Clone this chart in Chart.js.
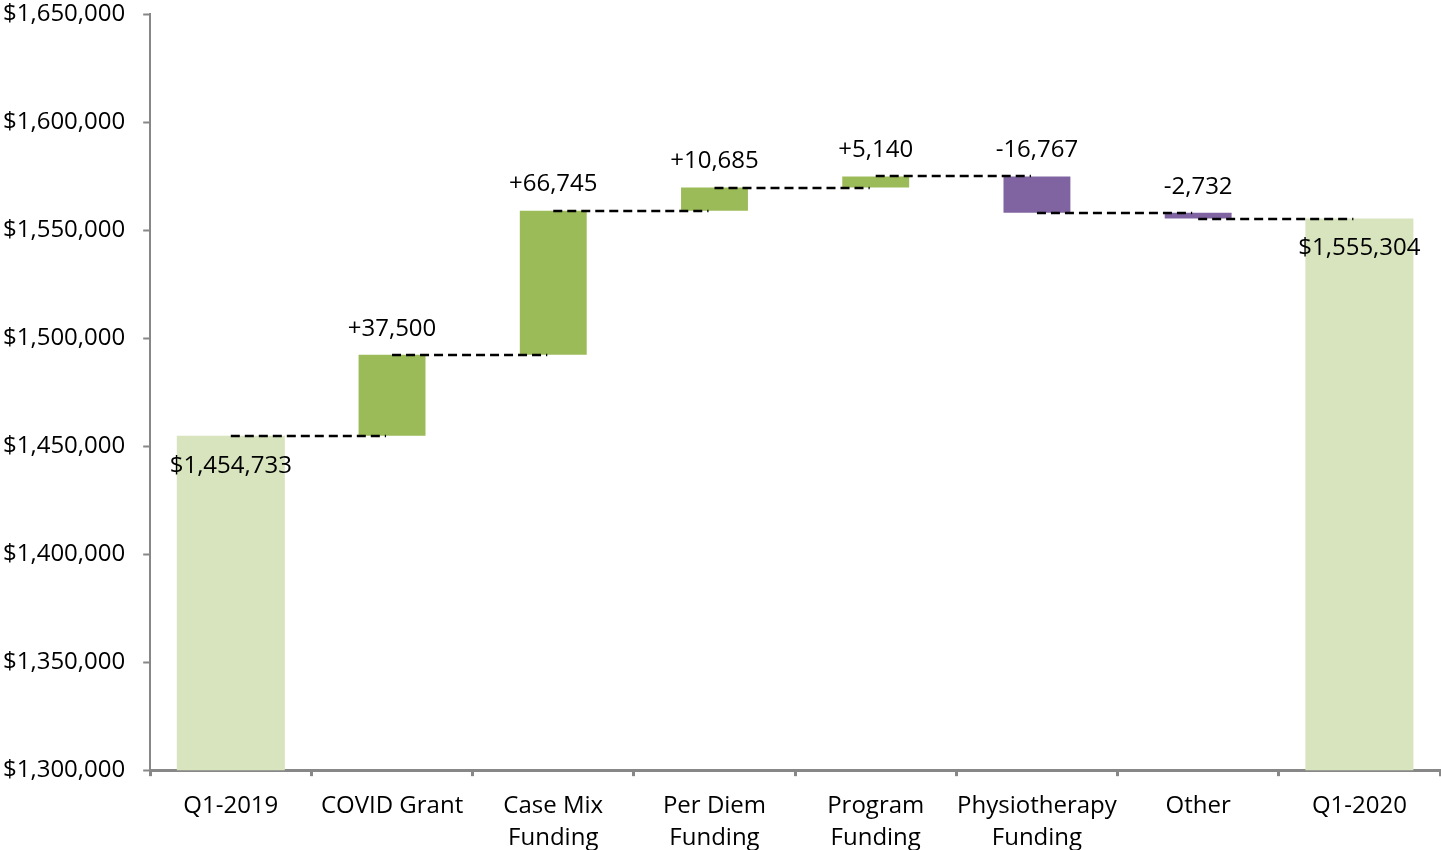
<!DOCTYPE html>
<html>
<head>
<meta charset="utf-8">
<script src="https://cdn.jsdelivr.net/npm/chart.js@4/dist/chart.umd.min.js"></script>
<style>
  html, body { margin: 0; padding: 0; background: #fff; }
  #wrap { width: 1441px; height: 850px; position: relative; }
</style>
</head>
<body>
<div id="wrap"><canvas id="waterfall"></canvas></div>
<script>
// ===== DATA =====
const categories = ['Q1-2019', 'COVID Grant', ['Case Mix', 'Funding'], ['Per Diem', 'Funding'],
                    ['Program', 'Funding'], ['Physiotherapy', 'Funding'], 'Other', 'Q1-2020'];
const startTotal = 1454733;
const changes = [37500, 66745, 10685, 5140, -16767, -2732];
const endTotal = 1555304;
const yTicks = { min: 1300000, max: 1650000, step: 50000 };

const colors = {
  total: '#D7E4BD',
  up: '#9BBB59',
  down: '#8064A2',
  axis: '#878787'
};
const FONT = { family: '"Open Sans", sans-serif', size: 24 };

// Build floating bars for the changes, running total along the way
const totalsData = [startTotal, null, null, null, null, null, null, endTotal];
const deltaData = [null];
const deltaColors = [null];
let running = startTotal;
changes.forEach(function(c) {
  deltaData.push([running, running + c]);
  deltaColors.push(c >= 0 ? colors.up : colors.down);
  running += c;
});
deltaData.push(null);
deltaColors.push(null);

// level each connector sits at (end of bar i)
const levels = [startTotal];
running = startTotal;
changes.forEach(function(c) { running += c; levels.push(running); });

// connectors + value labels
const waterfallExtras = {
  id: 'waterfallExtras',
  afterDatasetsDraw(chart) {
    const ctx = chart.ctx;
    const x = chart.scales.x, y = chart.scales.y;

    // dashed lines from the center of one bar to the next
    ctx.save();
    ctx.strokeStyle = '#000';
    ctx.lineWidth = 2.5;
    ctx.setLineDash([9, 5]);
    for (let i = 0; i < levels.length; i++) {
      const py = Math.round(y.getPixelForValue(levels[i]));
      ctx.beginPath();
      ctx.moveTo(x.getPixelForValue(i), py);
      ctx.lineTo(x.getPixelForValue(i + 1) - 6, py);
      ctx.stroke();
    }
    ctx.restore();

    ctx.save();
    ctx.font = FONT.size + 'px ' + FONT.family;
    ctx.fillStyle = '#000';
    ctx.textAlign = 'center';
    ctx.textBaseline = 'middle';
    // totals: just under the bar top
    [0, 7].forEach(function(i) {
      const v = totalsData[i];
      ctx.fillText('$' + v.toLocaleString('en-US'), x.getPixelForValue(i), y.getPixelForValue(v) + 30);
    });
    // changes: above the bar
    changes.forEach(function(c, k) {
      const top = Math.max(deltaData[k + 1][0], deltaData[k + 1][1]);
      const txt = (c >= 0 ? '+' : '-') + Math.abs(c).toLocaleString('en-US');
      ctx.fillText(txt, x.getPixelForValue(k + 1), y.getPixelForValue(top) - 26);
    });
    ctx.restore();
  }
};

function drawChart() {
  new Chart(document.getElementById('waterfall'), {
    type: 'bar',
    data: {
      labels: categories,
      datasets: [
        {
          label: 'Totals',
          data: totalsData,
          backgroundColor: colors.total,
          barPercentage: 0.67,
          categoryPercentage: 1,
          grouped: false
        },
        {
          label: 'Changes',
          data: deltaData,
          backgroundColor: deltaColors,
          barPercentage: 0.415,
          categoryPercentage: 1,
          grouped: false
        }
      ]
    },
    options: {
      responsive: true,
      maintainAspectRatio: false,
      animation: false,
      // Chart.js reserves the tick padding twice on the y axis, pull it back
      layout: { padding: { left: -15, right: 1, top: 0, bottom: -18 } },
      plugins: {
        legend: { display: false },
        tooltip: { enabled: false }
      },
      scales: {
        x: {
          grid: {
            offset: true,
            drawOnChartArea: false,
            drawTicks: true,
            tickLength: 6,
            tickColor: colors.axis,
            tickWidth: 3
          },
          border: { color: colors.axis, width: 3 },
          ticks: {
            color: '#000',
            font: { family: FONT.family, size: FONT.size, lineHeight: 1.33 },
            padding: 14,
            maxRotation: 0,
            autoSkip: false
          }
        },
        y: {
          min: yTicks.min,
          max: yTicks.max,
          grid: {
            drawOnChartArea: false,
            drawTicks: true,
            tickLength: 7,
            tickColor: colors.axis,
            tickWidth: 2
          },
          border: { color: colors.axis, width: 2 },
          ticks: {
            stepSize: yTicks.step,
            color: '#000',
            font: { family: FONT.family, size: FONT.size },
            padding: 18,
            callback: function(value) { return '$' + value.toLocaleString('en-US'); }
          },
          // the tick padding is added to the top space too; keep only half a label
          afterFit: function(scale) { scale.paddingTop = 14; }
        }
      }
    },
    plugins: [waterfallExtras]
  });
}

document.fonts.load(FONT.size + 'px "Open Sans"').then(drawChart, drawChart);
</script>
</body>
</html>
